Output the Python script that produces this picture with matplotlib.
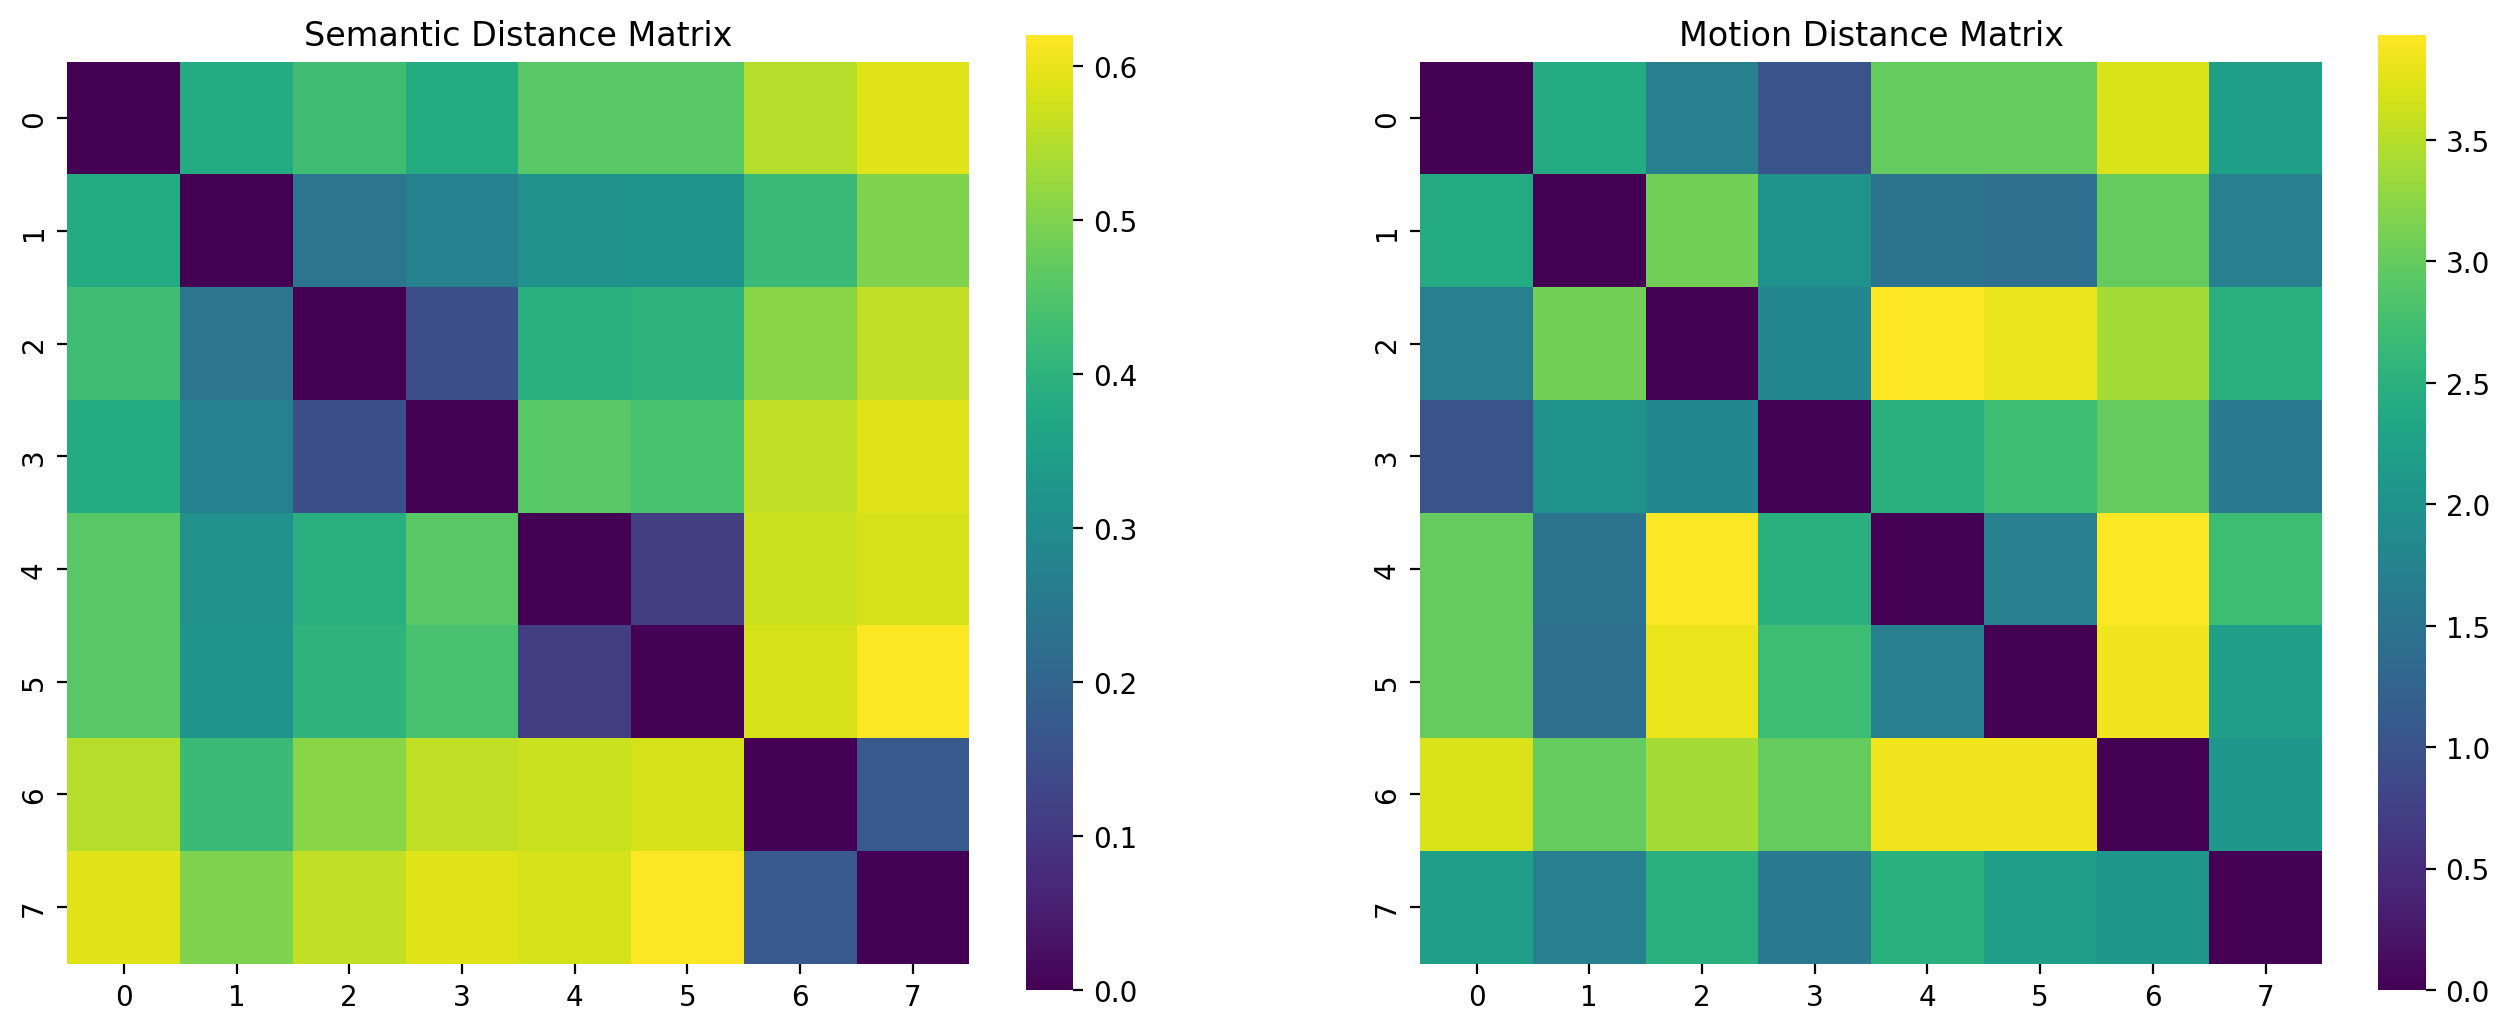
import numpy as np
import matplotlib
matplotlib.use("Agg")
import matplotlib.pyplot as plt
import seaborn as sns

labels = list(range(8))
semantic = [
    [0, 0.38, 0.43, 0.38, 0.46, 0.46, 0.55, 0.59],
    [0.38, 0, 0.24, 0.27, 0.31, 0.32, 0.42, 0.50],
    [0.43, 0.24, 0, 0.15, 0.39, 0.40, 0.51, 0.56],
    [0.38, 0.27, 0.15, 0, 0.46, 0.44, 0.56, 0.59],
    [0.46, 0.31, 0.39, 0.46, 0, 0.11, 0.57, 0.58],
    [0.46, 0.32, 0.40, 0.44, 0.11, 0, 0.58, 0.62],
    [0.55, 0.42, 0.51, 0.56, 0.57, 0.58, 0, 0.17],
    [0.59, 0.50, 0.56, 0.59, 0.58, 0.62, 0.17, 0],
]
motion = [
    [0, 2.4, 1.7, 1.0, 3.0, 3.0, 3.7, 2.2],
    [2.4, 0, 3.1, 2.0, 1.5, 1.4, 3.0, 1.7],
    [1.7, 3.1, 0, 1.8, 3.93, 3.8, 3.4, 2.5],
    [1.0, 2.0, 1.8, 0, 2.5, 2.7, 3.0, 1.6],
    [3.0, 1.5, 3.93, 2.5, 0, 1.7, 3.9, 2.7],
    [3.0, 1.4, 3.8, 2.7, 1.7, 0, 3.85, 2.2],
    [3.7, 3.0, 3.4, 3.0, 3.85, 3.85, 0, 2.1],
    [2.2, 1.7, 2.5, 1.6, 2.5, 2.2, 2.1, 0],
]

fig, axes = plt.subplots(1, 2, figsize=(16, 6.2), dpi=200)
sns.heatmap(np.array(semantic), ax=axes[0], cmap="viridis", square=True,
            xticklabels=labels, yticklabels=labels)
axes[0].set_title("Semantic Distance Matrix")
sns.heatmap(np.array(motion), ax=axes[1], cmap="viridis", square=True,
            xticklabels=labels, yticklabels=labels)
axes[1].set_title("Motion Distance Matrix")
fig.savefig("out.png", dpi=200, bbox_inches="tight")
